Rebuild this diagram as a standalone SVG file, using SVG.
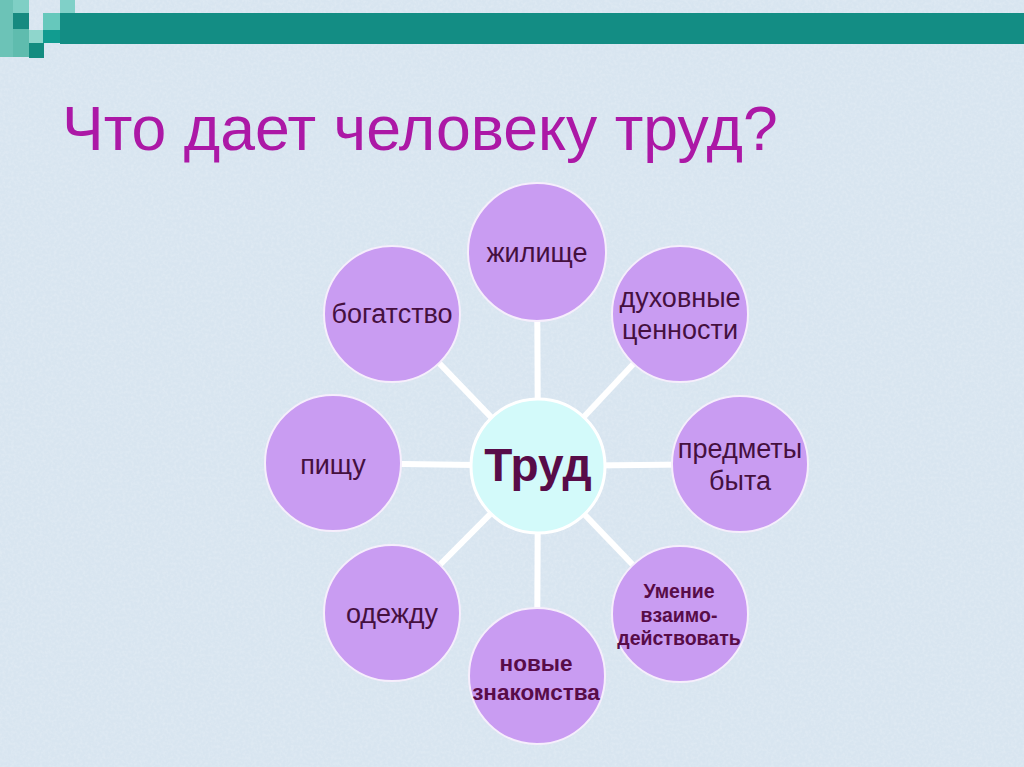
<svg xmlns="http://www.w3.org/2000/svg" width="1024" height="767" viewBox="0 0 1024 767">
  <defs>
    <style>
      .node { fill: #c99cf2; stroke: #f6eefc; stroke-width: 2; }
      .hub { fill: #d3fafa; stroke: #ffffff; stroke-width: 3; }
      .lbl { font-family: "Liberation Sans", Arial, sans-serif; font-size: 27px; fill: #45103f; text-anchor: middle; }
      .blbl { font-family: "Liberation Sans", Arial, sans-serif; font-weight: bold; fill: #580c48; text-anchor: middle; }
      .conn { stroke: #ffffff; stroke-width: 6; stroke-linecap: butt; }
    </style>
    <filter id="tex" x="0" y="0" width="100%" height="100%">
      <feTurbulence type="fractalNoise" baseFrequency="0.35" numOctaves="2" seed="3" result="n"/>
      <feColorMatrix type="matrix" values="0 0 0 0 1  0 0 0 0 1  0 0 0 0 1  0 0 0 0.55 -0.2"/>
    </filter>
  </defs>

  <rect x="0" y="0" width="1024" height="767" fill="#d8e5f0"/>
  <rect x="0" y="0" width="1024" height="767" filter="url(#tex)" opacity="0.6"/>

  <g id="header-bar">
    <rect x="0" y="0" width="13" height="57" fill="#6cc3b7"/>
    <rect x="13" y="0" width="16" height="13" fill="#7fcfc5"/>
    <rect x="13" y="13" width="16" height="16" fill="#178a80"/>
    <rect x="13" y="29" width="16" height="28" fill="#5fbcae"/>
    <rect x="29" y="30" width="14" height="13" fill="#8fd6cc"/>
    <rect x="29" y="43" width="15" height="15" fill="#138c80"/>
    <rect x="43" y="13" width="17" height="17" fill="#66c8bc"/>
    <rect x="43" y="30" width="17" height="13" fill="#119c90"/>
    <rect x="60" y="0" width="15" height="13" fill="#80d0c8"/>
    <rect x="60" y="13" width="964" height="31" fill="#138d84"/>
  </g>

  <text id="title" x="62" y="150" font-family="Liberation Sans, Arial, sans-serif" font-size="62.5" fill="#ac18a6">Что дает человеку труд?</text>

  <g id="connectors">
    <line class="conn" x1="538" y1="466" x2="537" y2="252"/>
    <line class="conn" x1="538" y1="466" x2="680" y2="314"/>
    <line class="conn" x1="538" y1="466" x2="740" y2="464"/>
    <line class="conn" x1="538" y1="466" x2="680" y2="614"/>
    <line class="conn" x1="538" y1="466" x2="537" y2="676"/>
    <line class="conn" x1="538" y1="466" x2="392" y2="613"/>
    <line class="conn" x1="538" y1="466" x2="333" y2="463"/>
    <line class="conn" x1="538" y1="466" x2="392" y2="314"/>
  </g>

  <g id="node-trud">
    <circle class="hub" cx="538" cy="466" r="67"/>
    <text class="blbl" x="538" y="481" font-size="46" fill="#6a0a3c">Труд</text>
  </g>

  <g id="node-zhilishche">
    <circle class="node" cx="537" cy="252" r="69"/>
    <text class="lbl" x="537" y="262">жилище</text>
  </g>

  <g id="node-dukhovnye">
    <circle class="node" cx="680" cy="314" r="68"/>
    <text class="lbl" x="680" y="307">духовные</text>
    <text class="lbl" x="680" y="339">ценности</text>
  </g>

  <g id="node-predmety">
    <circle class="node" cx="740" cy="464" r="68"/>
    <text class="lbl" x="740" y="458">предметы</text>
    <text class="lbl" x="740" y="490">быта</text>
  </g>

  <g id="node-umenie">
    <circle class="node" cx="680" cy="614" r="68"/>
    <text class="blbl" x="679" y="598" font-size="19.5">Умение</text>
    <text class="blbl" x="679" y="622" font-size="19.5">взаимо-</text>
    <text class="blbl" x="679" y="645" font-size="19.5">действовать</text>
  </g>

  <g id="node-novye">
    <circle class="node" cx="537" cy="676" r="68"/>
    <text class="blbl" x="536" y="671" font-size="22.5">новые</text>
    <text class="blbl" x="536" y="700" font-size="22.5">знакомства</text>
  </g>

  <g id="node-odezhdu">
    <circle class="node" cx="392" cy="613" r="68"/>
    <text class="lbl" x="392" y="623">одежду</text>
  </g>

  <g id="node-pishchu">
    <circle class="node" cx="333" cy="463" r="68"/>
    <text class="lbl" x="333" y="474">пищу</text>
  </g>

  <g id="node-bogatstvo">
    <circle class="node" cx="392" cy="314" r="68"/>
    <text class="lbl" x="392" y="323">богатство</text>
  </g>
</svg>
